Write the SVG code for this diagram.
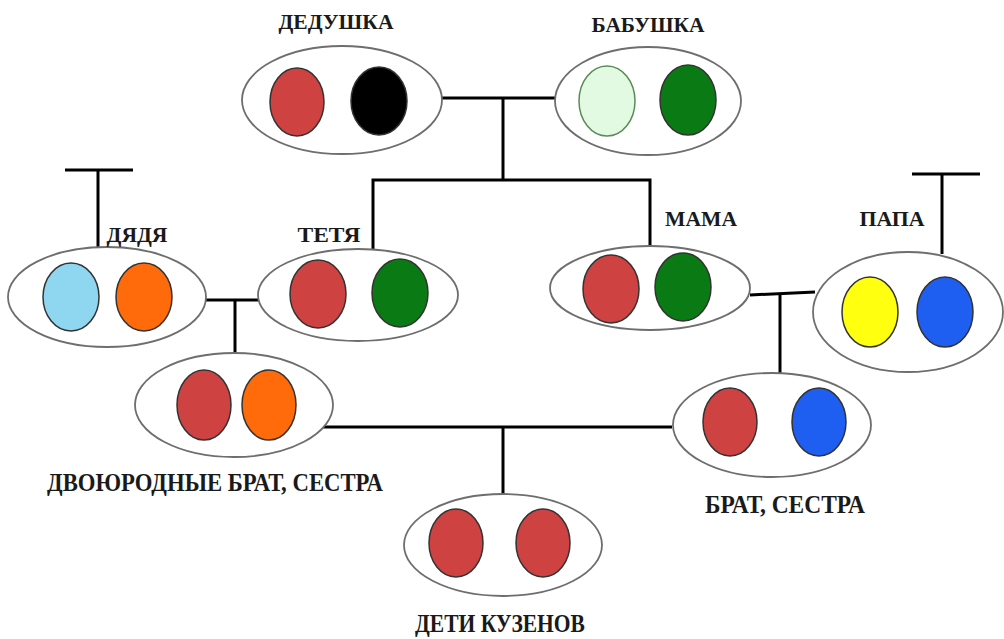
<svg xmlns="http://www.w3.org/2000/svg" width="1004" height="639" viewBox="0 0 1004 639">
<style>
.bg{fill:#fff}
.o{fill:#fff;stroke:#6e6e6e;stroke-width:1.8}
.c{stroke:#333;stroke-width:1.5}
.red{fill:#cf4242}
.blk{fill:#000}
.lg{fill:#e2fae2}
.dg{fill:#0a7a14}
.lb{fill:#8fd6f0}
.or{fill:#ff6a0a}
.ye{fill:#ffff10}
.bl{fill:#1e5ef0}
.t{font-family:"Liberation Serif","Times New Roman",serif;font-weight:bold;font-size:21px;fill:#1a1a1a;text-anchor:middle}
.big{font-size:26px}
.ln{stroke:#000;stroke-width:3;fill:none}
</style>
<rect class="bg" x="0" y="0" width="1004" height="639"/>
<g id="connectors">
<path class="ln" d="M442,98 H555"/>
<path class="ln" d="M503,98 V180"/>
<path class="ln" d="M373,249 V180 H650 V247"/>
<path class="ln" d="M65,170 H133"/>
<path class="ln" d="M98,170 V249"/>
<path class="ln" d="M912,174 H980"/>
<path class="ln" d="M942,174 V254"/>
<path class="ln" d="M205,300 H260"/>
<path class="ln" d="M235,300 V356"/>
<path class="ln" d="M750,295 L815,292"/>
<path class="ln" d="M780,294 V375"/>
<path class="ln" d="M323,427 H672"/>
<path class="ln" d="M503,427 V494"/>
</g>
<g id="dedushka">
<ellipse class="o" cx="342" cy="100" rx="100" ry="54"/>
<ellipse class="c red" cx="297" cy="102" rx="27" ry="34"/>
<ellipse class="c blk" cx="379" cy="101" rx="28" ry="34"/>
<text class="t" x="336" y="29" textLength="115" lengthAdjust="spacingAndGlyphs">ДЕДУШКА</text>
</g>
<g id="babushka">
<ellipse class="o" cx="648" cy="101" rx="93" ry="54"/>
<ellipse class="c lg" cx="607" cy="101" rx="28" ry="35" style="stroke:#5a8a5a"/>
<ellipse class="c dg" cx="688" cy="100" rx="28" ry="35"/>
<text class="t" x="648" y="32" textLength="113" lengthAdjust="spacingAndGlyphs">БАБУШКА</text>
</g>
<g id="dyadya">
<ellipse class="o" cx="107" cy="297" rx="99" ry="50"/>
<ellipse class="c lb" cx="71" cy="297" rx="28" ry="34"/>
<ellipse class="c or" cx="144" cy="297" rx="28" ry="34"/>
<text class="t" x="137" y="242" textLength="61" lengthAdjust="spacingAndGlyphs">ДЯДЯ</text>
</g>
<g id="tetya">
<ellipse class="o" cx="358" cy="295" rx="100" ry="46"/>
<ellipse class="c red" cx="318" cy="294" rx="28" ry="34"/>
<ellipse class="c dg" cx="400" cy="293" rx="28" ry="34"/>
<text class="t" x="329" y="242" textLength="63" lengthAdjust="spacingAndGlyphs">ТЕТЯ</text>
</g>
<g id="mama">
<ellipse class="o" cx="650" cy="288" rx="100" ry="42"/>
<ellipse class="c red" cx="611" cy="289" rx="28" ry="34"/>
<ellipse class="c dg" cx="683" cy="287" rx="28" ry="34"/>
<text class="t" x="701" y="226" textLength="72" lengthAdjust="spacingAndGlyphs">МАМА</text>
</g>
<g id="papa">
<ellipse class="o" cx="908" cy="312" rx="95" ry="60"/>
<ellipse class="c ye" cx="870" cy="312" rx="28" ry="35"/>
<ellipse class="c bl" cx="945" cy="312" rx="28" ry="35"/>
<text class="t" x="892" y="226" textLength="65" lengthAdjust="spacingAndGlyphs">ПАПА</text>
</g>
<g id="cousins">
<ellipse class="o" cx="234" cy="405" rx="99" ry="52"/>
<ellipse class="c red" cx="204" cy="405" rx="27" ry="35"/>
<ellipse class="c or" cx="269" cy="405" rx="27" ry="35"/>
<text class="t big" x="215" y="491" textLength="336" lengthAdjust="spacingAndGlyphs">ДВОЮРОДНЫЕ БРАТ, СЕСТРА</text>
</g>
<g id="brat">
<ellipse class="o" cx="772" cy="425" rx="99" ry="52"/>
<ellipse class="c red" cx="730" cy="422" rx="27" ry="34"/>
<ellipse class="c bl" cx="819" cy="422" rx="27" ry="34"/>
<text class="t big" x="785" y="513" textLength="160" lengthAdjust="spacingAndGlyphs">БРАТ, СЕСТРА</text>
</g>
<g id="deti">
<ellipse class="o" cx="503" cy="545" rx="99" ry="51"/>
<ellipse class="c red" cx="456" cy="543" rx="27" ry="34"/>
<ellipse class="c red" cx="543" cy="543" rx="27" ry="34"/>
<text class="t big" x="500" y="632" textLength="170" lengthAdjust="spacingAndGlyphs">ДЕТИ КУЗЕНОВ</text>
</g>
</svg>
